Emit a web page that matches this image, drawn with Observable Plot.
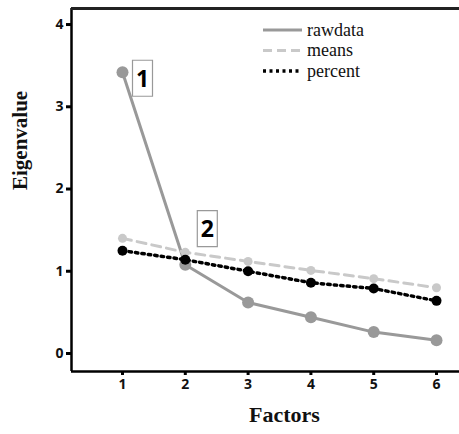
<!DOCTYPE html>
<html>
<head>
<meta charset="utf-8">
<script src="https://cdn.jsdelivr.net/npm/d3@7"></script>
<script src="https://cdn.jsdelivr.net/npm/@observablehq/plot@0.6"></script>
<style>
  html, body { margin: 0; padding: 0; background: #fff; }
  #chart { position: relative; width: 459px; height: 434px; }
</style>
</head>
<body>
<div id="chart"></div>
<script>
const factors = [1, 2, 3, 4, 5, 6];
const rawdata = [3.42, 1.08, 0.62, 0.44, 0.26, 0.16];
const means = [1.40, 1.23, 1.12, 1.01, 0.91, 0.80];
const percent = [1.25, 1.14, 1.00, 0.86, 0.79, 0.64];
const yTicks = [0, 1, 2, 3, 4];
const seriesNames = ["rawdata", "means", "percent"];
const annotationLabels = ["1", "2"];
const annotationFactors = [1, 2];

const rows = (vals, name) => factors.map((f, i) => ({factor: f, value: vals[i], series: name}));
const rawRows = rows(rawdata, "rawdata");
const meanRows = rows(means, "means");
const pctRows = rows(percent, "percent");
const notes = annotationFactors.map((f, i) => ({factor: f, value: rawdata[factors.indexOf(f)], label: annotationLabels[i]}));

const styles = {
  rawdata: {stroke: "#999999", strokeWidth: 3, dash: null, r: 6},
  means: {stroke: "#c9c9c9", strokeWidth: 3, dash: "9,6", r: 4.5},
  percent: {stroke: "#000000", strokeWidth: 3.5, dash: "2.5,4", r: 5}
};

const boxSymbol = {
  draw(context) {
    context.rect(-10, -18, 20, 36);
  }
};

const noteOffsets = [{dx: 20, dy: 6}, {dx: 22, dy: -36}];

const plot = Plot.plot({
  width: 459,
  height: 434,
  marginLeft: 71,
  marginRight: 0,
  marginTop: 8,
  marginBottom: 63,
  style: {fontFamily: "'Open Sans', sans-serif", background: "#fff"},
  x: {domain: [0.188, 6.366]},
  y: {domain: [-0.219, 4.195]},
  marks: [
    Plot.axisY(yTicks, {tickSize: 5, strokeWidth: 3, tickPadding: 3, fontSize: 14, fontWeight: "bold", fill: "#111", label: null, tickFormat: "d"}),
    Plot.axisX(factors, {tickSize: 4, strokeWidth: 3, tickPadding: 4, fontSize: 14, fontWeight: "bold", fill: "#111", label: null, tickFormat: "d"}),
    Plot.ruleX([0.188], {stroke: "#000", strokeWidth: 2.5}),
    Plot.ruleY([-0.219], {stroke: "#000", strokeWidth: 2.5}),
    Plot.ruleY([4.195], {stroke: "#222", strokeWidth: 3}),
    Plot.line(rawRows, {x: "factor", y: "value", stroke: styles.rawdata.stroke, strokeWidth: styles.rawdata.strokeWidth}),
    Plot.line(meanRows, {x: "factor", y: "value", stroke: styles.means.stroke, strokeWidth: styles.means.strokeWidth, strokeDasharray: styles.means.dash}),
    Plot.dot(meanRows, {x: "factor", y: "value", r: styles.means.r, fill: styles.means.stroke}),
    Plot.dot(rawRows, {x: "factor", y: "value", r: styles.rawdata.r, fill: styles.rawdata.stroke}),
    Plot.line(pctRows, {x: "factor", y: "value", stroke: styles.percent.stroke, strokeWidth: styles.percent.strokeWidth, strokeDasharray: styles.percent.dash}),
    Plot.dot(pctRows, {x: "factor", y: "value", r: styles.percent.r, fill: styles.percent.stroke}),
    ...notes.map((d, i) => Plot.dot([d], {x: "factor", y: "value", symbol: boxSymbol, r: 5, fill: "#fff", stroke: "#999", strokeWidth: 1.2, dx: noteOffsets[i].dx, dy: noteOffsets[i].dy})),
    ...notes.map((d, i) => Plot.text([d], {x: "factor", y: "value", text: "label", fontSize: 23, fontWeight: "bold", fill: "#000", dx: noteOffsets[i].dx, dy: noteOffsets[i].dy + 1})),
    Plot.text(["Eigenvalue"], {frameAnchor: "left", rotate: -90, dx: -51, fontSize: 21, fontWeight: "bold", fontFamily: "'Liberation Serif', serif", fill: "#111"}),
    Plot.text(["Factors"], {frameAnchor: "bottom", dx: 19, dy: 50, fontSize: 22, fontWeight: "bold", fontFamily: "'Liberation Serif', serif", fill: "#111"})
  ]
});

document.getElementById("chart").appendChild(plot);

// Legend (drawn inside the chart area, top right)
const svg = d3.select(plot);
const lg = svg.append("g").attr("transform", "translate(263,30)").attr("text-anchor", "start");
seriesNames.forEach((name, i) => {
  const s = styles[name];
  const g = lg.append("g").attr("transform", `translate(0,${i * 20.5})`);
  g.append("line").attr("x1", 0).attr("x2", 39).attr("y1", 0).attr("y2", 0)
    .attr("stroke", s.stroke).attr("stroke-width", s.strokeWidth)
    .attr("stroke-dasharray", name === "means" ? "9,5" : name === "percent" ? "3,3.5" : null);
  g.append("text").attr("x", 44).attr("y", 0).attr("dy", "0.32em")
    .attr("text-anchor", "start")
    .attr("font-family", "'Liberation Serif', serif").attr("font-size", 18)
    .attr("fill", "#111").text(name);
});
</script>
</body>
</html>
